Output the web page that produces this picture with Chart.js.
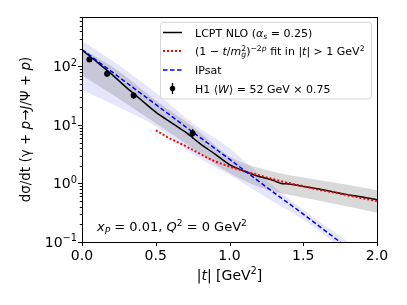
<!DOCTYPE html>
<html>
<head>
<meta charset="utf-8">
<script src="https://cdn.jsdelivr.net/npm/chart.js@4.4.0/dist/chart.umd.min.js"></script>
<style>
  body { margin: 0; background: #fff; }
  #chart { display: block; }
</style>
</head>
<body>
<canvas id="chart" width="407" height="305"></canvas>
<script>
// LCPT NLO curve
const tLcpt = [0, 0.1, 0.2, 0.3, 0.4, 0.5, 0.6, 0.7, 0.8, 0.9, 1.0, 1.1, 1.2, 1.3, 1.35, 1.4, 1.5, 1.6, 1.7, 1.8, 1.9, 2.0];
const sigmaLcpt = [190, 120, 74, 44, 27, 16.6, 11.2, 7.6, 4.8, 3.2, 2.1, 1.62, 1.32, 1.12, 1.0, 0.98, 0.89, 0.81, 0.72, 0.645, 0.59, 0.525];

// LCPT uncertainty band
const tLcptBand = [0, 0.25, 0.5, 0.75, 1.0, 1.25, 1.5, 1.75, 2.0];
const lcptBandLow = [71, 28, 10.7, 4.0, 1.51, 0.79, 0.575, 0.427, 0.316];
const lcptBandHigh = [200, 83, 26.3, 9.5, 2.9, 1.70, 1.26, 1.0, 0.77];

// power-law fit
const tFit = [0.5, 0.6, 0.7, 0.8, 0.9, 1.0, 1.1, 1.2, 1.3, 1.4, 1.5, 1.6, 1.7, 1.8, 1.9, 2.0];
const sigmaFit = [8.1, 5.8, 4.4, 3.2, 2.4, 1.95, 1.62, 1.38, 1.18, 1.02, 0.9, 0.79, 0.71, 0.63, 0.56, 0.50];

// IPsat curve + band
const tIPsat = [0, 0.25, 0.5, 0.75, 1.0, 1.25, 1.5, 1.75, 1.85];
const sigmaIPsat = [195, 66, 22.4, 7.6, 2.6, 0.87, 0.30, 0.10, 0.065];
const ipsatBandLow = [40, 20, 9.5, 3.2, 1.41, 0.575, 0.24, 0.083, 0.056];
const ipsatBandHigh = [275, 105, 35.5, 10.7, 4.0, 1.12, 0.355, 0.126, 0.083];

// H1 data
const tH1 = [0.05, 0.17, 0.35, 0.75];
const sigmaH1 = [132, 75, 32, 7.2];
const errH1 = [12, 8, 4, 1.3];

const xTicks = [0, 0.5, 1, 1.5, 2];
const xTickLabels = ['0.0', '0.5', '1.0', '1.5', '2.0'];
const yTicks = [0.1, 1, 10, 100];
const yTickExp = ['\u22121', '0', '1', '2'];

const FONT = '"DejaVu Sans"';

function pts(xs, ys) {
    return xs.map((x, i) => ({ x: x, y: ys[i] }));
}

// draws a list of [text, flags] segments; flags: i italic, ^ sup, _ sub, s stacked on previous
function drawRich(ctx, segs, x, y, size, align) {
    const items = segs.map(([t, f = '']) => {
        const small = f.includes('^') || f.includes('_');
        const sz = small ? size * 0.7 : size;
        const fnt = (f.includes('i') ? 'italic ' : '') + sz + 'px ' + FONT;
        ctx.font = fnt;
        const dy = f.includes('^') ? -size * 0.4 : (f.includes('_') ? size * 0.22 : 0);
        return { t: t, fnt: fnt, dy: dy, w: ctx.measureText(t).width, stack: f.includes('s') };
    });
    let cx = 0, prevStart = 0, prevW = 0;
    items.forEach(it => {
        if (it.stack) {
            it.x = prevStart;
            const adv = Math.max(prevW, it.w);
            cx = prevStart + adv;
            prevW = adv;
        } else {
            it.x = cx;
            prevStart = cx;
            prevW = it.w;
            cx += it.w;
        }
    });
    const x0 = align === 'center' ? x - cx / 2 : (align === 'right' ? x - cx : x);
    ctx.textAlign = 'left';
    ctx.textBaseline = 'alphabetic';
    items.forEach(it => {
        ctx.font = it.fnt;
        ctx.fillText(it.t, x0 + it.x, y + it.dy);
    });
    return cx;
}

const decor = {
    id: 'decor',
    afterDatasetsDraw(chart) {
        const ctx = chart.ctx;
        const xs = chart.scales.x, ys = chart.scales.y;
        // H1 error bars
        ctx.save();
        ctx.strokeStyle = '#000';
        ctx.lineWidth = 1.3;
        tH1.forEach((t, i) => {
            const px = xs.getPixelForValue(t);
            ctx.beginPath();
            ctx.moveTo(px, ys.getPixelForValue(sigmaH1[i] - errH1[i]));
            ctx.lineTo(px, ys.getPixelForValue(sigmaH1[i] + errH1[i]));
            ctx.stroke();
        });
        ctx.restore();
    },
    afterDraw(chart) {
        const ctx = chart.ctx;
        const a = chart.chartArea;
        const xs = chart.scales.x, ys = chart.scales.y;
        ctx.save();
        ctx.fillStyle = '#000';
        ctx.strokeStyle = '#000';

        // frame
        ctx.lineWidth = 1;
        ctx.strokeRect(Math.round(a.left) + 0.5, Math.round(a.top) + 0.5,
            Math.round(a.right - a.left), Math.round(a.bottom - a.top));

        // x ticks
        ctx.beginPath();
        xTicks.forEach(v => {
            const px = Math.round(xs.getPixelForValue(v)) + 0.5;
            ctx.moveTo(px, a.bottom);
            ctx.lineTo(px, a.bottom + 4);
        });
        // y ticks, major and minor
        for (let d = -1; d <= 2; d++) {
            for (let m = 1; m <= 9; m++) {
                const v = m * Math.pow(10, d);
                if (v > ys.max) break;
                const py = Math.round(ys.getPixelForValue(v)) + 0.5;
                ctx.moveTo(a.left, py);
                ctx.lineTo(a.left - (m === 1 ? 4 : 2.2), py);
            }
        }
        ctx.stroke();

        // tick labels
        ctx.font = '14px ' + FONT;
        ctx.textAlign = 'center';
        ctx.textBaseline = 'alphabetic';
        xTicks.forEach((v, i) => ctx.fillText(xTickLabels[i], xs.getPixelForValue(v), 260));
        yTicks.forEach((v, i) => {
            drawRich(ctx, [['10'], [yTickExp[i], '^']], 77, ys.getPixelForValue(v) + 5, 14, 'right');
        });

        // axis titles
        drawRich(ctx, [['|'], ['t', 'i'], ['| [GeV'], ['2', '^'], [']']], (a.left + a.right) / 2, 280, 14, 'center');
        ctx.save();
        ctx.translate(25, (a.top + a.bottom) / 2);
        ctx.rotate(-Math.PI / 2);
        drawRich(ctx, [['d\u03c3/dt (\u03b3 + '], ['p', 'i'], ['\u2192'], ['J', 'i'], ['/\u03a8 + '], ['p', 'i'], [')']], 0, 5, 13.5, 'center');
        ctx.restore();

        // annotation
        drawRich(ctx, [['x', 'i'], ['P', 'i_'], [' = 0.01, '], ['Q', 'i'], ['2', '^'], [' = 0 GeV'], ['2', '^']], 97, 231, 13, 'left');

        // legend
        const lx = 160.5, ly = 22.5, lw = 211, lh = 76.5;
        ctx.beginPath();
        ctx.roundRect(lx, ly, lw, lh, 3);
        ctx.fillStyle = 'rgba(255,255,255,0.8)';
        ctx.fill();
        ctx.strokeStyle = 'rgba(204,204,204,0.8)';
        ctx.lineWidth = 1;
        ctx.stroke();

        const rows = [32.5, 51, 70, 88.5];
        const sx0 = 163, sx1 = 182;
        ctx.lineCap = 'butt';
        // black line
        ctx.strokeStyle = '#000'; ctx.lineWidth = 1.5; ctx.setLineDash([]);
        ctx.beginPath(); ctx.moveTo(sx0, rows[0]); ctx.lineTo(sx1, rows[0]); ctx.stroke();
        // red dotted
        ctx.strokeStyle = '#ff0000'; ctx.lineWidth = 2; ctx.setLineDash([2, 2]);
        ctx.beginPath(); ctx.moveTo(sx0, rows[1]); ctx.lineTo(sx1, rows[1]); ctx.stroke();
        // blue dashed
        ctx.strokeStyle = '#0000ff'; ctx.lineWidth = 1.5; ctx.setLineDash([4.5, 2.5]);
        ctx.beginPath(); ctx.moveTo(sx0, rows[2]); ctx.lineTo(sx1, rows[2]); ctx.stroke();
        ctx.setLineDash([]);
        // errorbar marker
        ctx.strokeStyle = '#000'; ctx.lineWidth = 1.3;
        ctx.beginPath(); ctx.moveTo(172.5, rows[3] - 5.5); ctx.lineTo(172.5, rows[3] + 5.5); ctx.stroke();
        ctx.fillStyle = '#000';
        ctx.beginPath(); ctx.arc(172.5, rows[3], 2.7, 0, Math.PI * 2); ctx.fill();

        const tx = 195, fs = 11, off = 4;
        drawRich(ctx, [['LCPT NLO ('], ['\u03b1', 'i'], ['s', 'i_'], [' = 0.25)']], tx, rows[0] + off, fs, 'left');
        drawRich(ctx, [['(1 \u2212 '], ['t', 'i'], ['/'], ['m', 'i'], ['2', '^'], ['g', 'i_s'], [')'], ['\u22122', '^'], ['p', 'i^'],
            [' fit in |'], ['t', 'i'], ['| > 1 GeV'], ['2', '^']], tx, rows[1] + off, fs, 'left');
        drawRich(ctx, [['IPsat']], tx, rows[2] + off, fs, 'left');
        drawRich(ctx, [['H1 \u27e8'], ['W', 'i'], ['\u27e9 = 52 GeV \u00d7 0.75']], tx, rows[3] + off, fs, 'left');
        ctx.restore();
    }
};

const ctx = document.getElementById('chart').getContext('2d');
new Chart(ctx, {
    type: 'line',
    data: {
        datasets: [
            { // 0 IPsat band low
                data: pts(tIPsat, ipsatBandLow), borderWidth: 0, pointRadius: 0, fill: false,
                cubicInterpolationMode: 'monotone', order: 10
            },
            { // 1 IPsat band high
                data: pts(tIPsat, ipsatBandHigh), borderWidth: 0, pointRadius: 0, fill: 0,
                backgroundColor: 'rgba(40,40,230,0.12)', cubicInterpolationMode: 'monotone', order: 9
            },
            { // 2 LCPT band low
                data: pts(tLcptBand, lcptBandLow), borderWidth: 0, pointRadius: 0, fill: false,
                cubicInterpolationMode: 'monotone', order: 8
            },
            { // 3 LCPT band high
                data: pts(tLcptBand, lcptBandHigh), borderWidth: 0, pointRadius: 0, fill: 2,
                backgroundColor: 'rgba(128,128,128,0.3)', cubicInterpolationMode: 'monotone', order: 7
            },
            {
                label: 'LCPT NLO',
                data: pts(tLcpt, sigmaLcpt), borderColor: '#000', borderWidth: 1.5, pointRadius: 0,
                fill: false, cubicInterpolationMode: 'monotone', order: 4
            },
            {
                label: 'fit',
                data: pts(tFit, sigmaFit), borderColor: '#ff0000', borderWidth: 2, borderDash: [2, 2],
                pointRadius: 0, fill: false, cubicInterpolationMode: 'monotone', order: 3
            },
            {
                label: 'IPsat',
                data: pts(tIPsat, sigmaIPsat), borderColor: '#0000ff', borderWidth: 1.5, borderDash: [4.5, 2.5],
                pointRadius: 0, fill: false, cubicInterpolationMode: 'monotone', order: 2
            },
            {
                label: 'H1',
                data: pts(tH1, sigmaH1), showLine: false, pointRadius: 3, pointBackgroundColor: '#000',
                pointBorderColor: '#000', pointBorderWidth: 0, order: 1
            }
        ]
    },
    options: {
        responsive: false,
        animation: false,
        clip: 0,
        layout: { padding: { left: 82, right: 30, top: 17, bottom: 63 } },
        plugins: { legend: { display: false }, tooltip: { enabled: false } },
        scales: {
            x: { type: 'linear', min: 0, max: 2, display: false },
            y: { type: 'logarithmic', min: 0.1, max: 700, display: false }
        }
    },
    plugins: [decor]
});
</script>
</body>
</html>
